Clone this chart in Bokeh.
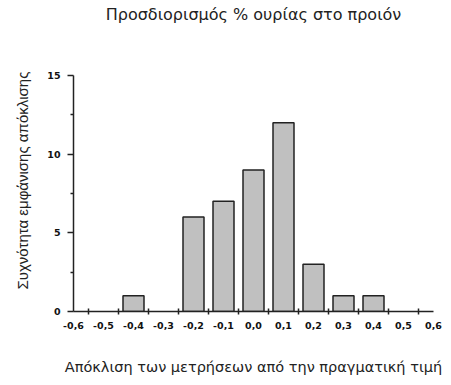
from bokeh.plotting import figure
from bokeh.models import FixedTicker, Range1d, Title, LinearAxis
from bokeh.embed import file_html
from bokeh.resources import INLINE

# Data
bin_centers = [-0.6, -0.5, -0.4, -0.3, -0.2, -0.1, 0.0, 0.1, 0.2, 0.3, 0.4, 0.5, 0.6]
tick_labels = ["-0,6", "-0,5", "-0,4", "-0,3", "-0,2", "-0,1", "0,0", "0,1", "0,2", "0,3", "0,4", "0,5", "0,6"]
counts = [0, 0, 1, 0, 6, 7, 9, 12, 3, 1, 1, 0, 0]
bin_edges = [-0.55, -0.45, -0.35, -0.25, -0.15, -0.05, 0.05, 0.15, 0.25, 0.35, 0.45, 0.55]
y_ticks = [0, 5, 10, 15]
y_minor = [2.5, 7.5, 12.5]

title_text = "Προσδιορισμός % ουρίας στο προιόν"
x_label = "Απόκλιση των μετρήσεων από την πραγματική τιμή"
y_label = "Συχνότητα εμφάνισης απόκλισης"

TFONT = "DejaVu Sans"

p = figure(width=443, height=377, output_backend="svg", toolbar_location=None,
           x_range=Range1d(-0.6, 0.6), y_range=Range1d(0, 15),
           min_border_left=73, min_border_right=10, min_border_top=75, min_border_bottom=65)
p.title_location = None
p.outline_line_color = None
p.xgrid.grid_line_color = None
p.ygrid.grid_line_color = None
p.background_fill_color = "white"

xa = p.below[0]
ya = p.left[0]

xs = [c for c, v in zip(bin_centers, counts) if v > 0]
ys = [v for v in counts if v > 0]
p.vbar(x=xs, top=ys, bottom=0, width=0.07, fill_color="#c0c0c0",
       line_color="#222222", line_width=1.5)

# title drawn as the label of an invisible top axis
tax = LinearAxis(ticker=FixedTicker(ticks=[]), axis_line_color=None,
                 major_tick_line_color=None, minor_tick_line_color=None,
                 major_tick_out=0, minor_tick_out=0, major_label_standoff=0,
                 axis_label=title_text, axis_label_text_font=TFONT,
                 axis_label_text_font_size="16px", axis_label_text_font_style="normal",
                 axis_label_text_color="#222222", axis_label_standoff=52)
p.add_layout(tax, "above")

# x axis
xa.ticker = FixedTicker(ticks=bin_centers, minor_ticks=bin_edges)
xa.major_label_overrides = {c: l for c, l in zip(bin_centers, tick_labels)}
xa.major_tick_line_color = None
xa.major_tick_out = 0
xa.major_tick_in = 0
xa.minor_tick_in = 3
xa.minor_tick_out = 3
xa.minor_tick_line_width = 1.5
xa.axis_line_width = 1.5
xa.axis_line_color = "#222222"
xa.minor_tick_line_color = "#222222"
xa.major_label_text_font = "DejaVu Sans"
xa.major_label_text_font_style = "bold"
xa.major_label_text_font_size = "9.5px"
xa.major_label_text_color = "#111111"
xa.major_label_standoff = 7
xa.axis_label = x_label
xa.axis_label_text_font = TFONT
xa.axis_label_text_font_size = "14.5px"
xa.axis_label_text_font_style = "normal"
xa.axis_label_text_color = "#222222"
xa.axis_label_standoff = 27

# y axis
ya.ticker = FixedTicker(ticks=y_ticks, minor_ticks=y_minor)
ya.major_tick_out = 6
ya.major_tick_in = 0
ya.minor_tick_out = 3
ya.minor_tick_in = 0
ya.major_tick_line_width = 1.5
ya.minor_tick_line_width = 1.5
ya.axis_line_width = 1.5
ya.axis_line_color = "#222222"
ya.major_tick_line_color = "#222222"
ya.minor_tick_line_color = "#222222"
ya.major_label_text_font = "DejaVu Sans"
ya.major_label_text_font_style = "bold"
ya.major_label_text_font_size = "9.5px"
ya.major_label_text_color = "#111111"
ya.major_label_standoff = 7

ytitle = Title(text=y_label, align="left", offset=22, vertical_align="top",
               text_font="Liberation Sans", text_font_size="15px",
               text_font_style="normal", text_color="#222222", standoff=24)
p.add_layout(ytitle, "left")

open("out.html", "w").write(file_html(p, INLINE))
